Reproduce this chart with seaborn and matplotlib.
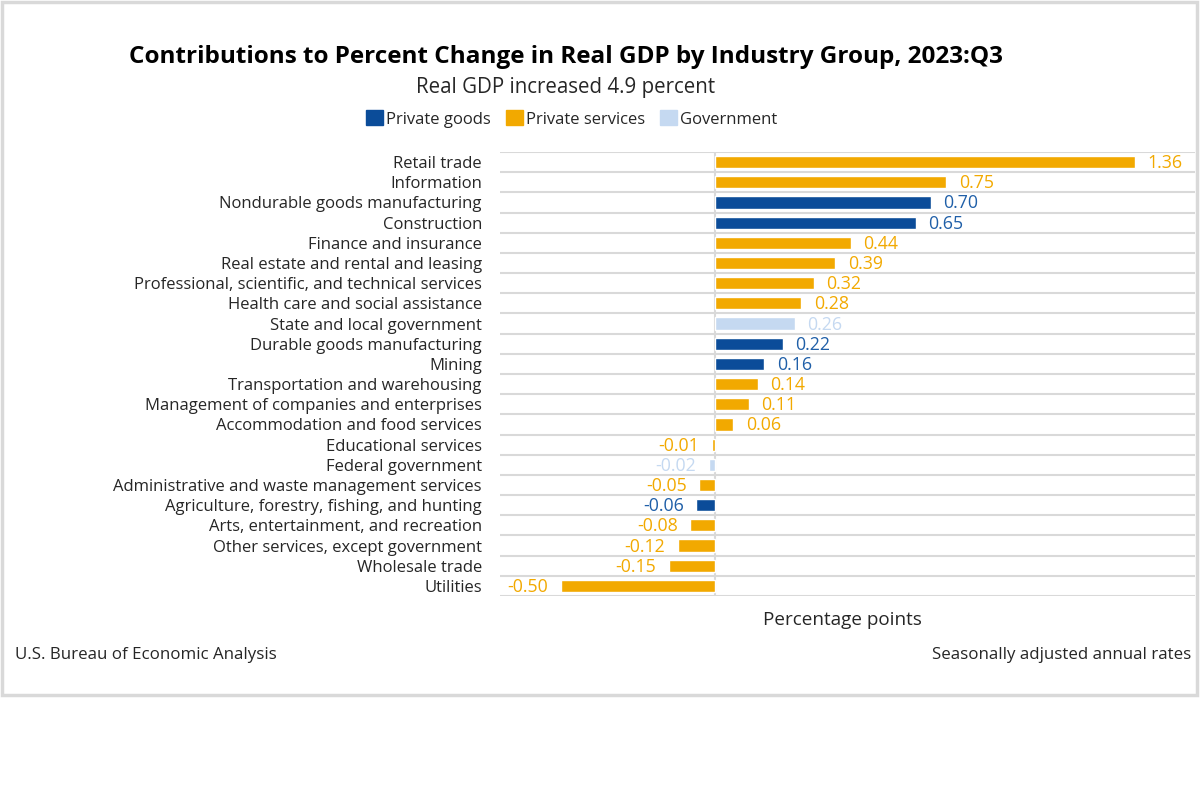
import matplotlib
matplotlib.use("Agg")
import matplotlib.pyplot as plt
import matplotlib.patches as mpatches
import seaborn as sns
import pandas as pd

industries = [
    "Retail trade", "Information", "Nondurable goods manufacturing", "Construction",
    "Finance and insurance", "Real estate and rental and leasing",
    "Professional, scientific, and technical services", "Health care and social assistance",
    "State and local government", "Durable goods manufacturing", "Mining",
    "Transportation and warehousing", "Management of companies and enterprises",
    "Accommodation and food services", "Educational services", "Federal government",
    "Administrative and waste management services",
    "Agriculture, forestry, fishing, and hunting", "Arts, entertainment, and recreation",
    "Other services, except government", "Wholesale trade", "Utilities",
]
values = [1.36, 0.75, 0.70, 0.65, 0.44, 0.39, 0.32, 0.28, 0.26, 0.22, 0.16, 0.14, 0.11,
          0.06, -0.01, -0.02, -0.05, -0.06, -0.08, -0.12, -0.15, -0.50]
groups = ["Private services", "Private services", "Private goods", "Private goods",
          "Private services", "Private services", "Private services", "Private services",
          "Government", "Private goods", "Private goods", "Private services",
          "Private services", "Private services", "Private services", "Government",
          "Private services", "Private goods", "Private services", "Private services",
          "Private services", "Private services"]
group_order = ["Private goods", "Private services", "Government"]

colors = {"Private goods": "#0B4C99", "Private services": "#F2A900", "Government": "#C5D9F1"}
label_colors = {"Private goods": "#1F5FA8", "Private services": "#F2A900", "Government": "#C5D9F1"}

df = pd.DataFrame({"industry": industries, "value": values, "group": groups})

sns.set_style("white")
plt.rcParams["font.family"] = ["Open Sans", "DejaVu Sans"]

fig = plt.figure(figsize=(12, 8), dpi=100)
ax = fig.add_axes([500 / 1200, 1 - 596 / 800, 695 / 1200, 444 / 800])

sns.barplot(data=df, y="industry", x="value", hue="group", hue_order=group_order,
            palette=colors, orient="h", dodge=False, width=0.6, ax=ax, legend=False,
            order=industries, saturation=1)

ax.set_xlim(-0.696, 1.555)
ax.set_ylim(len(industries) - 0.5, -0.5)
for i in range(len(industries) + 1):
    ax.axhline(i - 0.5, color="#D9D9D9", lw=1.5, zorder=0)
ax.axvline(0, color="#D9D9D9", lw=1.5, zorder=0)

for i, (v, g) in enumerate(zip(values, groups)):
    if v >= 0:
        ax.text(v + 0.04, i + 0.05, f"{v:.2f}", va="center", ha="left", fontsize=12.8,
                color=label_colors[g])
    else:
        ax.text(v - 0.04, i + 0.05, f"{v:.2f}", va="center", ha="right", fontsize=12.8,
                color=label_colors[g])

for s in ax.spines.values():
    s.set_visible(False)
ax.set_xticks([])
ax.set_ylabel("")
ax.set_xlabel("")
ax.tick_params(axis="y", length=0, pad=13, labelsize=12.0, labelcolor="#262626")

fig.text(842 / 1200, 1 - 620 / 800, "Percentage points", ha="center", va="center",
         fontsize=13.6, color="#262626")

fig.text(566 / 1200, 1 - 57 / 800,
         "Contributions to Percent Change in Real GDP by Industry Group, 2023:Q3",
         ha="center", va="center", fontsize=17.5, fontweight="bold", color="black")
fig.text(566 / 1200, 1 - 88 / 800, "Real GDP increased 4.9 percent", ha="center",
         va="center", fontsize=14.8, color="#262626")

handles = [mpatches.Patch(color=colors[g], label=g) for g in group_order]
fig.legend(handles=handles, loc="center", bbox_to_anchor=(572 / 1200, 1 - 119 / 800),
           ncol=3, frameon=False, handlelength=1.0, handleheight=1.0, handletextpad=0.2,
           columnspacing=0.9, fontsize=12, labelcolor="#262626")

fig.text(15 / 1200, 1 - 655 / 800, "U.S. Bureau of Economic Analysis", ha="left",
         va="center", fontsize=12.2, color="#262626")
fig.text(1191 / 1200, 1 - 655 / 800, "Seasonally adjusted annual rates", ha="right",
         va="center", fontsize=12.2, color="#262626")

border = mpatches.Rectangle((2 / 1200, 1 - 695 / 800), 1195 / 1200, 693 / 800,
                            transform=fig.transFigure, fill=False, edgecolor="#D9D9D9",
                            lw=2.5)
fig.add_artist(border)

fig.savefig("out.png", dpi=100)
